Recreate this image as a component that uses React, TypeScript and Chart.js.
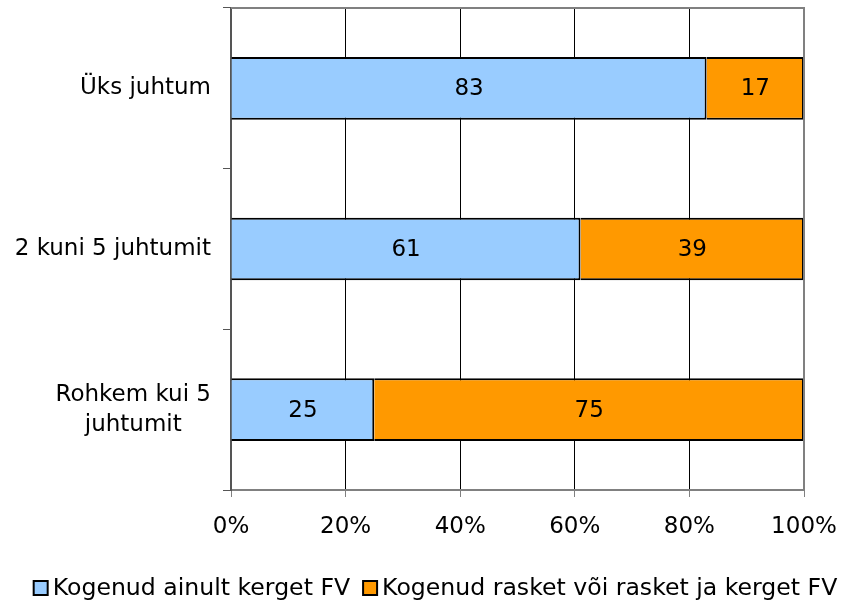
import React, { useEffect, useRef } from "react";
import { Chart, registerables } from "chart.js";

Chart.register(...registerables);

const categories: string[][] = [["Üks juhtum"], ["2 kuni 5 juhtumit"], ["Rohkem kui 5", "juhtumit"]];
const lightValues = [83, 61, 25];
const severeValues = [17, 39, 75];
const seriesNames = ["Kogenud ainult kerget FV", "Kogenud rasket või rasket ja kerget FV"];
const seriesColors = ["#99CCFF", "#FF9900"];
const xTicks = [0, 20, 40, 60, 80, 100];

const FONT = "'DejaVu Sans', Verdana, sans-serif";
const FS = 23;
const LEGEND_FS = 23.6;

const customPlugin = {
  id: "custom",
  afterDraw(chart: any) {
    const ctx = chart.ctx;
    const area = chart.chartArea;
    const y = chart.scales.y;
    ctx.save();
    ctx.strokeStyle = "#808080";
    ctx.lineWidth = 2;
    ctx.beginPath();
    ctx.moveTo(area.left, area.top);
    ctx.lineTo(area.right, area.top);
    ctx.lineTo(area.right, area.bottom);
    ctx.stroke();
    ctx.fillStyle = "#000";
    ctx.font = `${FS}px ${FONT}`;
    ctx.textBaseline = "middle";
    const lh = 30;
    categories.forEach((lines, i) => {
      const cy = y.getPixelForValue(i);
      const widths = lines.map((l) => ctx.measureText(l).width);
      const maxW = Math.max(...widths);
      const right = area.left - 20;
      const cx = right - maxW / 2;
      ctx.textAlign = "center";
      lines.forEach((l, j) => {
        const ly = cy + (j - (lines.length - 1) / 2) * lh;
        ctx.fillText(l, cx, ly);
      });
    });
    chart.data.datasets.forEach((ds: any, di: number) => {
      const meta = chart.getDatasetMeta(di);
      meta.data.forEach((bar: any, i: number) => {
        const v = ds.data[i];
        const cx = (bar.x + bar.base) / 2;
        ctx.textAlign = "center";
        ctx.fillText(String(v), cx, bar.y + 1);
      });
    });
    // legend
    ctx.font = `${LEGEND_FS}px ${FONT}`;
    const box = 14;
    const gapBoxText = 5;
    const gapItems = 13;
    const widths = seriesNames.map((n) => ctx.measureText(n).width);
    const total = widths.reduce((a, w) => a + box + gapBoxText + w, 0) + gapItems * (seriesNames.length - 1);
    let x = chart.width / 2 + 15 - total / 2;
    const ly = 588;
    ctx.textAlign = "left";
    seriesNames.forEach((n, i) => {
      ctx.fillStyle = seriesColors[i];
      ctx.fillRect(x, ly - box / 2, box, box);
      ctx.strokeStyle = "#000";
      ctx.lineWidth = 2;
      ctx.strokeRect(x, ly - box / 2, box, box);
      ctx.fillStyle = "#000";
      ctx.fillText(n, x + box + gapBoxText, ly + 1);
      x += box + gapBoxText + widths[i] + gapItems;
    });
    ctx.restore();
  },
};

export default function App() {
  const ref = useRef<HTMLCanvasElement>(null);
  useEffect(() => {
    document.body.style.margin = "0";
    const chart = new Chart(ref.current!, {
      type: "bar",
      data: {
        labels: categories.map((c) => c.join(" ")),
        datasets: [
          {
            label: seriesNames[0],
            data: lightValues,
            backgroundColor: seriesColors[0],
            borderColor: "#000000",
            borderWidth: 2,
            barPercentage: 0.39,
            categoryPercentage: 1,
          },
          {
            label: seriesNames[1],
            data: severeValues,
            backgroundColor: seriesColors[1],
            borderColor: "#000000",
            borderWidth: 2,
            barPercentage: 0.39,
            categoryPercentage: 1,
          },
        ],
      },
      options: {
        indexAxis: "y",
        animation: false,
        responsive: false,
        devicePixelRatio: 1,
        layout: { padding: { top: 8, right: 37, left: 0, bottom: 43 } },
        scales: {
          x: {
            stacked: true,
            min: 0,
            max: 100,
            afterBuildTicks: (scale: any) => {
              scale.ticks = xTicks.map((v) => ({ value: v }));
            },
            afterFit: (scale: any) => {
              scale.height = 70;
              scale.paddingRight = 0;
              scale.paddingLeft = 0;
            },
            ticks: {
              callback: (v: any) => v + "%",
              color: "#000",
              font: { family: FONT, size: FS },
              padding: 16,
              maxRotation: 0,
            },
            grid: {
              color: (c: any) => (c.tick && (c.tick.value === 0 || c.tick.value === 100) ? "#808080" : "#000000"),
              lineWidth: 1,
              tickColor: "#808080",
              tickLength: 7,
            },
            border: { display: true, color: "#808080", width: 2 },
          },
          y: {
            stacked: true,
            offset: true,
            afterFit: (scale: any) => {
              scale.width = 231;
            },
            ticks: { display: false },
            grid: {
              offset: true,
              drawOnChartArea: false,
              drawTicks: true,
              tickLength: 8,
              tickColor: "#555555",
              lineWidth: 1,
            },
            border: { display: true, color: "#555555", width: 2 },
          },
        },
        plugins: {
          legend: { display: false },
          tooltip: { enabled: false },
        },
      },
      plugins: [customPlugin],
    } as any);
    return () => chart.destroy();
  }, []);
  return (
    <div style={{ position: "absolute", left: 0, top: 0, width: 841, height: 603 }}>
      <canvas ref={ref} width={841} height={603} />
    </div>
  );
}
